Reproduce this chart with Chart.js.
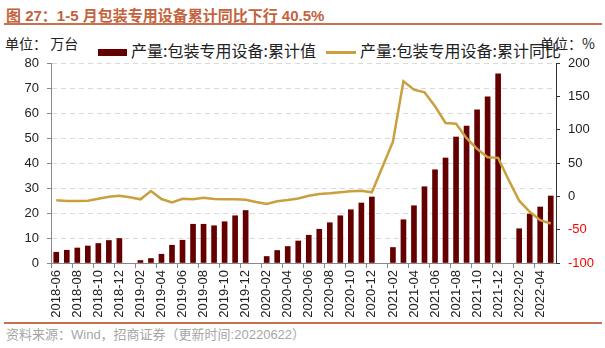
<!DOCTYPE html>
<html>
<head>
<meta charset="utf-8">
<script src="https://cdn.jsdelivr.net/npm/chart.js@4"></script>
<style>
  body { margin: 0; width: 605px; height: 348px; background: #fff; position: relative; overflow: hidden;
         font-family: "Liberation Sans", "Noto Sans CJK SC", sans-serif; }
  .abs { position: absolute; white-space: pre; }
  #title { left: 6px; top: 4px; font: bold 15px "Liberation Sans", "Noto Sans CJK SC"; color: #c4623d; }
  .rule { left: 4px; width: 598px; height: 2px; background: #c8704f; }
  .unit { top: 33px; font: 14px "Noto Sans CJK SC", sans-serif; color: #222; }
  .leg { top: 40px; font: 16px "Noto Sans CJK SC", sans-serif; color: #222; line-height: 20px; }
  #src { left: 6px; top: 324px; font: 13px "Liberation Sans", "Noto Sans CJK SC"; color: #a6a6a6; }
  #wrap { left: 0; top: 30px; width: 605px; height: 290px; }
</style>
</head>
<body>
<div id="title" class="abs">图 27：1-5 月包装专用设备累计同比下行 40.5%</div>
<div class="abs rule" style="top:23px"></div>
<div class="abs unit" style="left:5px">单位： 万台</div>
<div class="abs unit" style="left:540px">单位：%</div>
<div class="abs leg" style="left:98px"><span style="display:inline-block;width:29px;height:7px;background:#650000;vertical-align:middle;margin-right:4px"></span>产量:包装专用设备:累计值</div>
<div class="abs leg" style="left:326px"><span style="display:inline-block;width:30px;height:3px;background:#c9a03d;vertical-align:middle;margin-right:4px"></span>产量:包装专用设备:累计同比</div>
<div class="abs" id="wrap"><canvas id="chart" width="605" height="290"></canvas></div>
<div class="abs rule" style="top:322px"></div>
<div id="src" class="abs">资料来源：Wind，招商证券（更新时间:20220622）</div>

<script>
const months = [
  "2018-06","2018-07","2018-08","2018-09","2018-10","2018-11","2018-12",
  "2019-01","2019-02","2019-03","2019-04","2019-05","2019-06","2019-07","2019-08","2019-09","2019-10","2019-11","2019-12",
  "2020-01","2020-02","2020-03","2020-04","2020-05","2020-06","2020-07","2020-08","2020-09","2020-10","2020-11","2020-12",
  "2021-01","2021-02","2021-03","2021-04","2021-05","2021-06","2021-07","2021-08","2021-09","2021-10","2021-11","2021-12",
  "2022-01","2022-02","2022-03","2022-04","2022-05"
];

// 累计值, 万台
const cumValue = [
  4.3, 5.1, 6.0, 6.8, 7.8, 9.0, 9.8,
  null, 1.0, 1.8, 3.5, 7.1, 9.1, 15.5, 15.5, 14.9, 16.5, 18.9, 21.0,
  null, 2.6, 5.0, 6.6, 8.8, 11.1, 13.5, 16.1, 18.9, 21.3, 24.0, 26.4,
  null, 6.2, 17.3, 22.9, 30.5, 37.3, 42.0, 50.4, 54.8, 61.3, 66.5, 75.7,
  null, 13.7, 19.6, 22.4, 26.8
];

// 累计同比, %
const cumYoY = [
  -6.0, -7.1, -7.1, -6.6, -3.6, -0.6, 0.9,
  -1.5, -4.5, 8.0, -4.1, -9.0, -3.6, -4.5, -2.1, -4.1, -4.5, -4.5, -5.1,
  -8.6, -11.6, -7.5, -5.6, -3.1, 0.9, 3.5, 4.5, 6.0, 7.5, 8.5, 6.0,
  44.0, 82.0, 172.6, 160.0, 156.0, 135.0, 110.0, 109.0, 87.3, 71.2, 58.7, 57.7,
  24.6, -6.6, -23.2, -35.7, -40.7
];

const tickFont = { family: "Liberation Sans", size: 13 };

new Chart(document.getElementById("chart"), {
  data: {
    labels: months,
    datasets: [
      {
        type: "line",
        label: "产量:包装专用设备:累计同比",
        data: cumYoY,
        yAxisID: "y1",
        borderColor: "#c9a03d",
        borderWidth: 2.5,
        pointRadius: 0,
        tension: 0,
        order: 0
      },
      {
        type: "bar",
        label: "产量:包装专用设备:累计值",
        data: cumValue,
        yAxisID: "y",
        backgroundColor: "#650000",
        barThickness: 5,
        order: 1
      }
    ]
  },
  options: {
    responsive: false,
    animation: false,
    layout: { padding: { top: 33, left: 0, right: 0, bottom: 0 } },
    plugins: { legend: { display: false }, tooltip: { enabled: false } },
    scales: {
      x: {
        grid: {
          offset: true,
          drawOnChartArea: false,
          tickLength: 5,
          tickColor: ctx => ctx.index % 2 === 0 ? "#888" : "rgba(0,0,0,0)"
        },
        border: { color: "#888" },
        ticks: {
          autoSkip: false,
          maxRotation: 90,
          minRotation: 90,
          padding: 2,
          color: "#222",
          font: tickFont,
          callback: (v, i) => i % 2 === 0 ? months[i] : ""
        },
        afterFit: s => { s.height = 57; }
      },
      y: {
        position: "left",
        min: 0,
        max: 80,
        ticks: { stepSize: 10, color: "#222", font: tickFont, padding: 8 },
        grid: { color: "#d9d9d9", tickColor: "#888", tickLength: 4, tickBorderDash: [] },
        border: { color: "#888", dash: [5, 4] },
        afterFit: s => { s.width = 51; }
      },
      y1: {
        position: "right",
        min: -100,
        max: 200,
        ticks: {
          stepSize: 50,
          font: tickFont,
          padding: 8,
          color: ctx => ctx.tick.value < 0 ? "#ff0000" : "#222"
        },
        grid: { drawOnChartArea: false, tickColor: "#333", tickLength: 4 },
        border: { color: "#333" },
        afterFit: s => { s.width = 49; }
      }
    }
  }
});
</script>
</body>
</html>
